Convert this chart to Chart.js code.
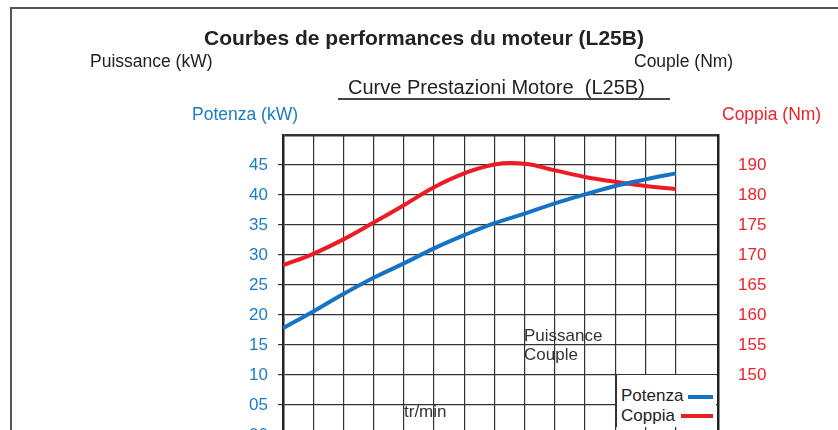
<!DOCTYPE html>
<html>
<head>
<meta charset="utf-8">
<script src="https://cdn.jsdelivr.net/npm/chart.js@4"></script>
<style>
  html, body { margin: 0; padding: 0; background: #fff; }
  #wrap { position: relative; width: 838px; height: 430px; overflow: hidden; font-family: "Liberation Sans", Arial, sans-serif; }
  #frame { position: absolute; left: 10px; top: 7px; width: 900px; height: 500px; border: 2px solid #555; box-sizing: border-box; }
  canvas { position: absolute; left: 0; top: 0; }
  .t { position: absolute; white-space: pre; line-height: 1; color: #222; }
  #legend { position: absolute; left: 616px; top: 375px; width: 100px; height: 52px; background: #fff; border-left: 1.5px solid #333; box-sizing: border-box; }
  .sw { position: absolute; height: 4px; }
</style>
</head>
<body>
<div id="wrap">
  <div id="frame"></div>
  <canvas id="chart" width="838" height="470"></canvas>

  <div class="t" style="left:204px; top:27px; font-size:21px; font-weight:bold;">Courbes de performances du moteur (L25B)</div>
  <div class="t" style="left:90px; top:53px; font-size:17.5px;">Puissance (kW)</div>
  <div class="t" style="left:634px; top:53px; font-size:17.5px;">Couple (Nm)</div>
  <div class="t" style="left:348px; top:77px; font-size:20px;">Curve Prestazioni Motore  (L25B)</div>
  <div style="position:absolute; left:338px; top:98px; width:332px; height:1.5px; background:#444;"></div>
  <div class="t" style="left:192px; top:106px; font-size:17.5px; color:#1b7cc6;">Potenza (kW)</div>
  <div class="t" style="left:722px; top:106px; font-size:17.5px; color:#ee2229;">Coppia (Nm)</div>

  <div class="t" style="left:524px; top:327px; font-size:17px; color:#333;">Puissance</div>
  <div class="t" style="left:524px; top:346px; font-size:17px; color:#333;">Couple</div>
  <div class="t" style="left:404px; top:403px; font-size:17px; color:#333;">tr/min</div>

  <div id="legend">
    <div class="t" style="left:4px; top:12px; font-size:17px;">Potenza</div>
    <div class="sw" style="left:71px; top:20px; width:25px; background:#1673c4;"></div>
    <div class="t" style="left:4px; top:32px; font-size:17px;">Coppia</div>
    <div class="sw" style="left:64px; top:39px; width:32px; background:#ec1c24;"></div>
  </div>
</div>

<script>
  // engine speed (rpm)
  const rpm = [1000, 1200, 1400, 1600, 1800, 2000, 2200, 2400, 2600, 2800, 3000, 3200, 3400, 3600];
  // power (kW)
  const potenza = [17.8, 20.6, 23.5, 26.2, 28.6, 31.1, 33.3, 35.3, 36.9, 38.6, 40.1, 41.5, 42.6, 43.6];
  // torque (Nm)
  const coppia = [168.3, 170.2, 172.6, 175.4, 178.3, 181.3, 183.6, 185.1, 185.2, 184.1, 183.0, 182.2, 181.5, 181.0];

  // tick texts as printed on the sheet (top right one reads 190)
  const leftTickLabels = ['00', '05', '10', '15', '20', '25', '30', '35', '40', '45', ''];
  const rightTickLabels = ['', '', '150', '155', '160', '165', '170', '175', '180', '190', ''];

  const ctx = document.getElementById('chart').getContext('2d');
  new Chart(ctx, {
    type: 'line',
    data: {
      datasets: [
        {
          label: 'Potenza',
          data: rpm.map((r, i) => ({ x: r, y: potenza[i] })),
          borderColor: '#1673c4',
          borderWidth: 4,
          pointRadius: 0,
          tension: 0.4,
          yAxisID: 'y'
        },
        {
          label: 'Coppia',
          data: rpm.map((r, i) => ({ x: r, y: coppia[i] })),
          borderColor: '#ec1c24',
          borderWidth: 4,
          pointRadius: 0,
          tension: 0.4,
          yAxisID: 'y2'
        }
      ]
    },
    options: {
      responsive: false,
      animation: false,
      events: [],
      layout: { padding: { left: 0, right: 0, top: 135, bottom: 35 } },
      plugins: {
        legend: { display: false },
        tooltip: { enabled: false }
      },
      scales: {
        x: {
          type: 'linear',
          min: 1000,
          max: 3880,
          afterBuildTicks: (axis) => { axis.ticks = rpm.map(v => ({ value: v })); },
          afterFit: (scale) => { scale.height = 0; },
          ticks: { display: false },
          grid: { color: '#333', lineWidth: 1.2, drawTicks: false },
          border: { display: false }
        },
        y: {
          position: 'left',
          min: 0,
          max: 50,
          afterFit: (scale) => { scale.width = 283; },
          ticks: {
            stepSize: 5,
            padding: 10,
            color: '#1b7cc6',
            font: { family: 'Liberation Sans', size: 17 },
            callback: (v, i) => leftTickLabels[i]
          },
          grid: {
            color: '#333',
            lineWidth: (c) => (c.tick && c.tick.value === 50 ? 2.5 : 1.2),
            tickColor: (c) => (c.tick && c.tick.value === 50 ? 'rgba(0,0,0,0)' : '#333'),
            tickLength: 5
          },
          border: { color: '#222', width: 2.5 }
        },
        y2: {
          position: 'right',
          min: 140,
          max: 190,
          afterFit: (scale) => { scale.width = 120; },
          ticks: {
            stepSize: 5,
            padding: 12,
            color: '#ee2229',
            font: { family: 'Liberation Sans', size: 17 },
            callback: (v, i) => rightTickLabels[i]
          },
          grid: { display: false },
          border: { color: '#222', width: 2.5 }
        }
      }
    }
  });
</script>
</body>
</html>
